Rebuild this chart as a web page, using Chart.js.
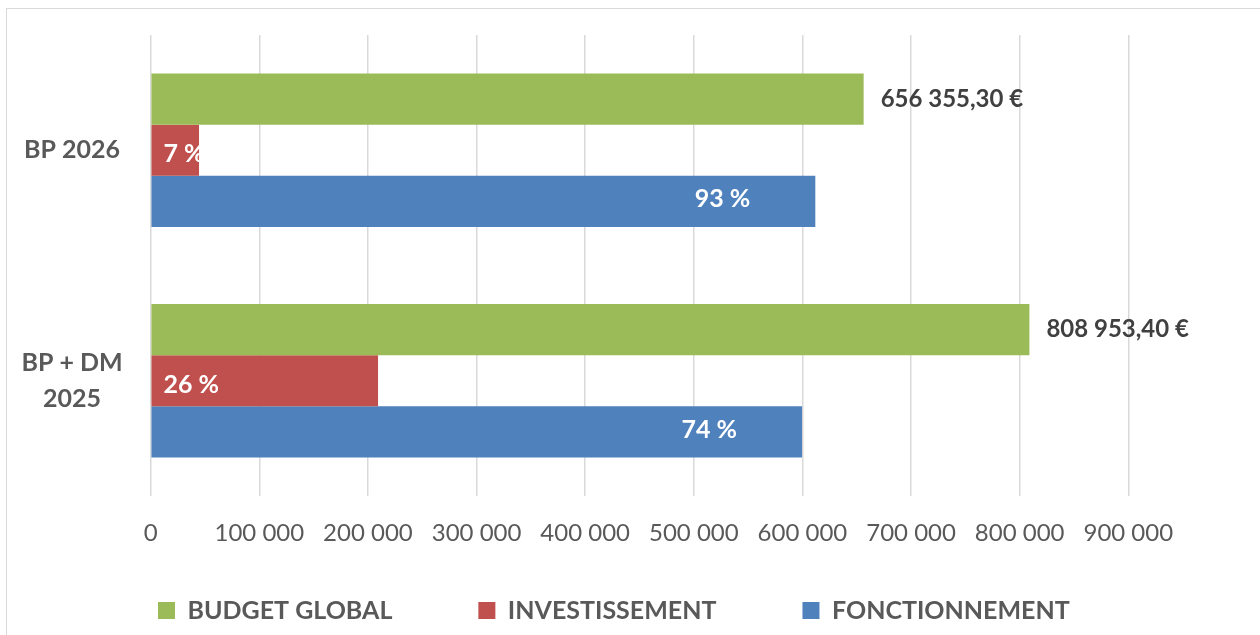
<!DOCTYPE html>
<html>
<head>
<meta charset="utf-8">
<script src="https://cdn.jsdelivr.net/npm/chart.js@4"></script>
<style>
  html, body { margin: 0; padding: 0; background: #ffffff; overflow: hidden; }
  #wrap { position: relative; width: 1260px; height: 635px; overflow: hidden; }
  #frame { position: absolute; left: 6px; top: 8px; width: 1400px; height: 800px; border: 1px solid #D9D9D9; box-sizing: border-box; }
  #c { position: absolute; left: 0; top: 0; }
</style>
</head>
<body>
<div id="wrap">
  <div id="frame"></div>
  <canvas id="c" width="1260" height="635"></canvas>
</div>
<script>
// ---- Data ----
const categories = ['BP 2026', ['BP + DM', '2025']];
const seriesNames = ['BUDGET GLOBAL', 'INVESTISSEMENT', 'FONCTIONNEMENT'];
const budgetGlobal = [656355.30, 808953.40];
const investissement = [44500, 209300];
const fonctionnement = [611855.30, 599653.40];
const xTickLabels = ['0', '100 000', '200 000', '300 000', '400 000', '500 000', '600 000', '700 000', '800 000', '900 000'];
const xMin = 0, xMax = 900000, xStep = 100000;

// ---- Styles ----
const COLORS = ['#9BBB59', '#C0504D', '#4F81BD'];
const FONT = 'Lato, "Open Sans", "DejaVu Sans", sans-serif';
const LEGEND_PAD = 86;
const LEGEND_X = 158;
const LEGEND_Y = 598;
const X_AXIS_H = 56;
const LEGEND_H = 635 - 2 - X_AXIS_H - 496;

function fmtEuro(v) {
  const parts = v.toFixed(2).split('.');
  const intPart = parts[0].replace(/\B(?=(\d{3})+(?!\d))/g, ' ');
  return intPart + ',' + parts[1] + ' \u20AC';
}

const labelPlugin = {
  id: 'barLabels',
  afterDatasetsDraw(chart) {
    const ctx = chart.ctx;
    ctx.save();
    // Budget global values (outside end)
    chart.getDatasetMeta(0).data.forEach((el, i) => {
      ctx.font = 'bold 24px ' + FONT;
      ctx.fillStyle = '#404040';
      ctx.textAlign = 'left';
      ctx.textBaseline = 'middle';
      ctx.fillText(fmtEuro(budgetGlobal[i]), el.x + 17, el.y);
    });
    // Investissement percentages
    chart.getDatasetMeta(1).data.forEach((el, i) => {
      const pct = Math.round(investissement[i] / budgetGlobal[i] * 100) + ' %';
      ctx.save();
      ctx.beginPath();
      ctx.rect(el.base, el.y - el.height / 2, el.x - el.base, el.height);
      ctx.clip();
      ctx.font = 'bold 25px ' + FONT;
      ctx.fillStyle = '#FFFFFF';
      ctx.textAlign = 'left';
      ctx.textBaseline = 'middle';
      ctx.fillText(pct, el.base + 12, el.y + 4);
      ctx.restore();
    });
    // Fonctionnement percentages
    chart.getDatasetMeta(2).data.forEach((el, i) => {
      const pct = Math.round(fonctionnement[i] / budgetGlobal[i] * 100) + ' %';
      ctx.font = 'bold 25px ' + FONT;
      ctx.fillStyle = '#FFFFFF';
      ctx.textAlign = 'right';
      ctx.textBaseline = 'middle';
      ctx.fillText(pct, el.x - 65, el.y - 2);
    });
    ctx.restore();
  }
};

const legendPlace = {
  id: 'legendPlace',
  afterLayout(chart) {
    const lg = chart.legend;
    if (!lg) return;
    const w = lg.width;
    lg.left = LEGEND_X - LEGEND_PAD;
    lg.right = lg.left + w;
    lg.top = LEGEND_Y - LEGEND_PAD;
    lg.bottom = chart.height;
    lg.height = lg.bottom - lg.top;
  }
};

new Chart(document.getElementById('c'), {
  type: 'bar',
  data: {
    labels: categories,
    datasets: [
      { label: seriesNames[0], data: budgetGlobal, backgroundColor: COLORS[0] },
      { label: seriesNames[1], data: investissement, backgroundColor: COLORS[1] },
      { label: seriesNames[2], data: fonctionnement, backgroundColor: COLORS[2] }
    ]
  },
  options: {
    indexAxis: 'y',
    responsive: false,
    animation: false,
    events: [],
    layout: { padding: { left: 0, right: 131.7, top: 35, bottom: 2 } },
    datasets: { bar: { categoryPercentage: 0.666, barPercentage: 1.0, borderWidth: 0 } },
    scales: {
      x: {
        min: xMin, max: xMax,
        grid: { color: '#D9D9D9', lineWidth: 1.5, drawTicks: false },
        border: { display: false },
        ticks: {
          stepSize: xStep,
          padding: 23,
          color: '#595959',
          font: { family: FONT, size: 24, weight: 'normal' },
          maxRotation: 0,
          autoSkip: false,
          callback: (v, i) => xTickLabels[i]
        },
        afterFit: (s) => { s.height = X_AXIS_H; s.paddingLeft = 0; s.paddingRight = 0; }
      },
      y: {
        grid: { display: false, drawTicks: false },
        border: { display: false },
        ticks: {
          crossAlign: 'center',
          padding: 28,
          color: '#595959',
          font: { family: FONT, size: 25, weight: 'bold', lineHeight: 1.42 }
        },
        afterFit: (s) => { s.width = 150.7; s.paddingTop = 0; s.paddingBottom = 0; }
      }
    },
    plugins: {
      tooltip: { enabled: false },
      legend: {
        position: 'bottom',
        align: 'start',
        maxHeight: LEGEND_H,
        labels: {
          boxWidth: 17,
          boxHeight: 17,
          padding: LEGEND_PAD,
          color: '#595959',
          font: { family: FONT, size: 25, weight: 'bold' }
        }
      }
    }
  },
  plugins: [labelPlugin, legendPlace]
});
</script>
</body>
</html>
